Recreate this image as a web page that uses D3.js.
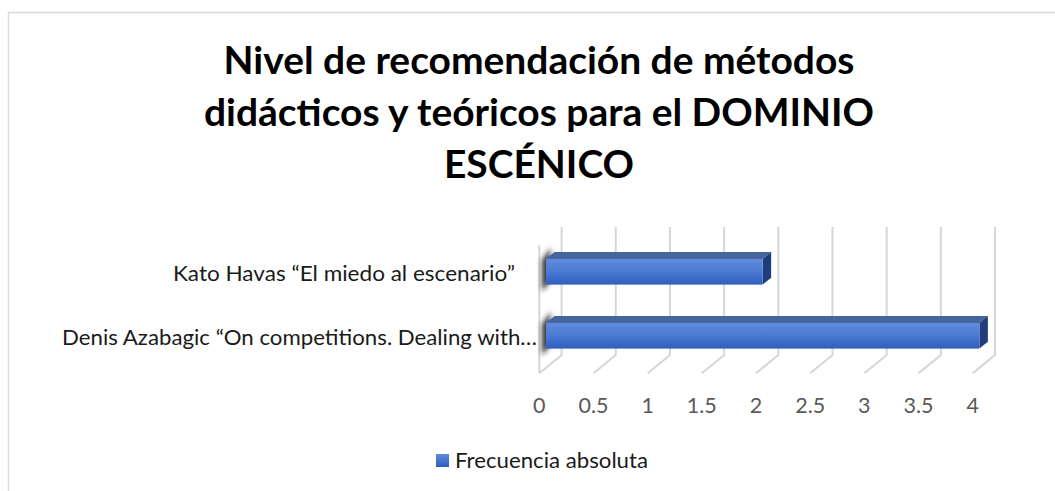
<!DOCTYPE html>
<html>
<head>
<meta charset="utf-8">
<script src="https://cdn.jsdelivr.net/npm/d3@7"></script>
<style>
  html, body { margin: 0; padding: 0; background: #ffffff; }
  svg { display: block; }
</style>
</head>
<body>
<svg id="chart" width="1055" height="491"></svg>
<script>
// ---- data ----
const titleLines = ["Nivel de recomendación de métodos", "didácticos y teóricos para el DOMINIO", "ESCÉNICO"];
const categories = ["Kato Havas “El miedo al escenario”", "Denis Azabagic “On competitions. Dealing with…"];
const values = [2, 4];
const tickValues = [0, 0.5, 1, 1.5, 2, 2.5, 3, 3.5, 4];
const tickLabels = ["0", "0.5", "1", "1.5", "2", "2.5", "3", "3.5", "4"];
const seriesName = "Frecuencia absoluta";

// ---- layout ----
const W = 1055, H = 491;
const svg = d3.select("#chart");
const FONT = "Lato, 'Open Sans', sans-serif";

const DX = 22.3, DY = 18.3;          // depth offset (back relative to front)
const x = d3.scaleLinear().domain([0, 4]).range([539.3, 972.7]); // front floor
const y = d3.scaleBand().domain(categories).range([227, 355]).paddingInner(0.6).paddingOuter(0.3); // back plane
const P = (v, yb, d) => [x(v) + d * DX, yb + (1 - d) * DY];
const FACE_D = 0.3, BACK_D = 0.68;
const labelRight = [515, 537], labelWidth = [342, 475];

const defs = svg.append("defs");
const g1 = defs.append("linearGradient").attr("id", "faceGrad").attr("x1", 0).attr("y1", 0).attr("x2", 0).attr("y2", 1);
g1.append("stop").attr("offset", "0%").attr("stop-color", "#5f8bdc");
g1.append("stop").attr("offset", "45%").attr("stop-color", "#4d7cd2");
g1.append("stop").attr("offset", "100%").attr("stop-color", "#2f5ebf");
const g2 = defs.append("linearGradient").attr("id", "legGrad").attr("x1", 0).attr("y1", 0).attr("x2", 0).attr("y2", 1);
g2.append("stop").attr("offset", "0%").attr("stop-color", "#5f8bdc");
g2.append("stop").attr("offset", "100%").attr("stop-color", "#2f5ebf");
defs.append("filter").attr("id", "blur").attr("x", "-100%").attr("y", "-50%").attr("width", "300%").attr("height", "200%")
  .append("feGaussianBlur").attr("stdDeviation", 2.6);

// chart border
svg.append("rect").attr("x", 8.5).attr("y", 12.5).attr("width", W + 20).attr("height", H + 20)
  .attr("fill", "none").attr("stroke", "#d9d9d9").attr("stroke-width", 1.5);

// title: common horizontal scale so that line 2 matches the reference width
const title = svg.append("g");
const titleBase = [74, 126, 178];
const tNodes = titleLines.map((t, i) => title.append("text").attr("x", 539).attr("y", titleBase[i])
  .attr("text-anchor", "middle").attr("font-family", FONT).attr("font-weight", "bold")
  .attr("font-size", 38.5).attr("fill", "#000").text(t));
const tScale = 670 / tNodes[1].node().getComputedTextLength();
tNodes.forEach(n => n.attr("textLength", n.node().getComputedTextLength() * tScale).attr("lengthAdjust", "spacingAndGlyphs"));

// gridlines (back wall + floor diagonals)
const grid = svg.append("g").attr("fill", "none").attr("stroke", "#d6d6d6").attr("stroke-width", 2);
tickValues.forEach(v => {
  const top = P(v, 227, 1), bot = P(v, 355, 1), front = P(v, 355, 0);
  grid.append("polyline").attr("points", [top, bot, front].map(p => p.join(",")).join(" "));
});
// left side wall front edge
grid.append("line").attr("x1", x(0)).attr("y1", 227 + DY).attr("x2", x(0)).attr("y2", 355 + DY);

// shadows on left wall
const shadows = svg.append("g").attr("filter", "url(#blur)");
categories.forEach((c, i) => {
  const yt = y(c), yb = y(c) + y.bandwidth();
  const a = P(0, yt, BACK_D), b = P(0, yt, FACE_D), cc = P(0, yb, FACE_D), d = P(0, yb, BACK_D);
  shadows.append("polygon")
    .attr("points", [[a[0] - 4, a[1] - 4], [b[0] - 4, b[1] + 1], [cc[0] - 4, cc[1] + 7], [d[0] - 4, d[1] + 3]].map(p => p.join(",")).join(" "))
    .attr("fill", "#1e1e1e").attr("opacity", 0.9);
});

// bars
const bars = svg.append("g");
categories.forEach((c, i) => {
  const v = values[i];
  const yt = y(c), yb = y(c) + y.bandwidth();
  const f1 = P(0, yt, FACE_D), f2 = P(v, yt, FACE_D), f3 = P(v, yb, FACE_D), f4 = P(0, yb, FACE_D);
  const t1 = P(0, yt, BACK_D), t2 = P(v, yt, BACK_D), s3 = P(v, yb, BACK_D);
  bars.append("polygon").attr("points", [t1, t2, f2, f1].map(p => p.join(",")).join(" ")).attr("fill", "#46649f");
  bars.append("polygon").attr("points", [f2, t2, s3, f3].map(p => p.join(",")).join(" ")).attr("fill", "#1f3d7a");
  bars.append("rect").attr("x", f1[0]).attr("y", f1[1]).attr("width", f2[0] - f1[0]).attr("height", f4[1] - f1[1])
    .attr("fill", "url(#faceGrad)");
});

// category labels
svg.append("g").selectAll("text").data(categories).join("text")
  .attr("x", (d, i) => labelRight[i]).attr("y", d => y(d) + y.bandwidth() / 2 + 22)
  .attr("text-anchor", "end").attr("font-family", FONT).attr("font-size", 21.5).attr("fill", "#1a1a1a")
  .attr("textLength", (d, i) => labelWidth[i]).attr("lengthAdjust", "spacingAndGlyphs")
  .text(d => d);

// x axis tick labels
svg.append("g").selectAll("text").data(tickValues).join("text")
  .attr("x", d => x(d)).attr("y", 405).attr("dy", "0.35em").attr("text-anchor", "middle")
  .attr("font-family", FONT).attr("font-size", 21.5).attr("fill", "#595959")
  .text((d, i) => tickLabels[i]);

// legend
const leg = svg.append("g");
leg.append("rect").attr("x", 436).attr("y", 454).attr("width", 13).attr("height", 13).attr("fill", "url(#legGrad)");
leg.append("text").attr("x", 455).attr("y", 460.5).attr("dy", "0.35em").attr("font-family", FONT)
  .attr("font-size", 21.5).attr("fill", "#1a1a1a").attr("textLength", 193).attr("lengthAdjust", "spacingAndGlyphs")
  .text(seriesName);
</script>
</body>
</html>
